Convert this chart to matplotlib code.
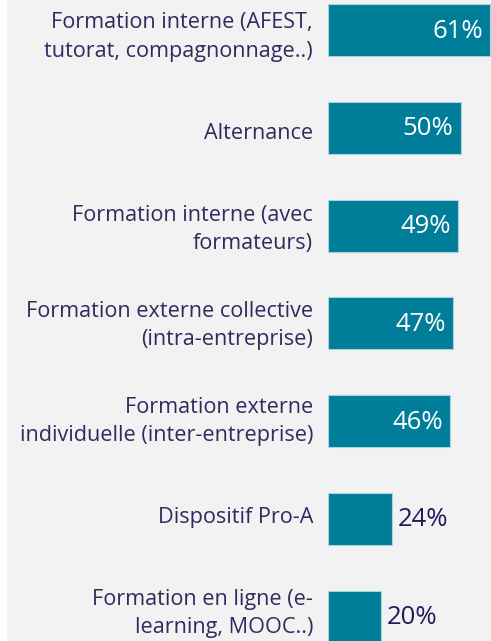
import matplotlib

matplotlib.use("Agg")
import matplotlib.pyplot as plt
from matplotlib.patches import Rectangle
from matplotlib.transforms import offset_copy

categories = [
    "Formation interne (AFEST,\ntutorat, compagnonnage..)",
    "Alternance",
    "Formation interne (avec\nformateurs)",
    "Formation externe collective\n(intra-entreprise)",
    "Formation externe\nindividuelle (inter-entreprise)",
    "Dispositif Pro-A",
    "Formation en ligne (e-\nlearning, MOOC..)",
]
values = [61, 50, 49, 47, 46, 24, 20]

BAR = "#007d99"
EDGE = "#a8d4e0"
LABEL = "#2e2b5e"
VALUE_OUT = "#1f1c5a"
BG = "#f2f2f2"

plt.rcParams["font.family"] = ["Open Sans", "DejaVu Sans"]

W, H, DPI = 491, 641, 100
fig = plt.figure(figsize=(W / DPI, H / DPI), dpi=DPI, facecolor="white")
fig.patches.append(Rectangle((7 / W, 0), 1 - 7 / W, 1, transform=fig.transFigure,
                             facecolor=BG, edgecolor="none", zorder=-10))

left = 328 / W
ax = fig.add_axes([left, 0, 1 - left, 1])
ax.set_facecolor("none")

px_per_unit = 2.65
step = 97.8
first_center = 30
ax.set_xlim(0, (W - 328) / px_per_unit)
ax.set_ylim((H - first_center) / step, -first_center / step)

ypos = list(range(len(values)))
ax.barh(ypos, values, height=0.53, color=BAR, edgecolor=EDGE, linewidth=0.8)

# category labels sit a touch below the bar centre at the top, drifting up lower down
for y, cat in zip(ypos, categories):
    tr = offset_copy(ax.transData, fig, x=-15, y=-(7 - 1.7 * y), units="dots")
    ax.text(0, y, cat, transform=tr, ha="right", va="center", fontsize=15.6,
            color=LABEL, linespacing=1.45, clip_on=False)

for y, v in zip(ypos, values):
    if v >= 40:
        tr = offset_copy(ax.transData, fig, x=-7, y=-1, units="dots")
        ax.text(v, y, f"{v}%", transform=tr, ha="right", va="center",
                fontsize=18.5, color="white")
    else:
        tr = offset_copy(ax.transData, fig, x=6, y=-1, units="dots")
        ax.text(v, y, f"{v}%", transform=tr, ha="left", va="center",
                fontsize=18.5, color=VALUE_OUT)

ax.axis("off")
fig.savefig("out.png", dpi=DPI, facecolor=fig.get_facecolor())
